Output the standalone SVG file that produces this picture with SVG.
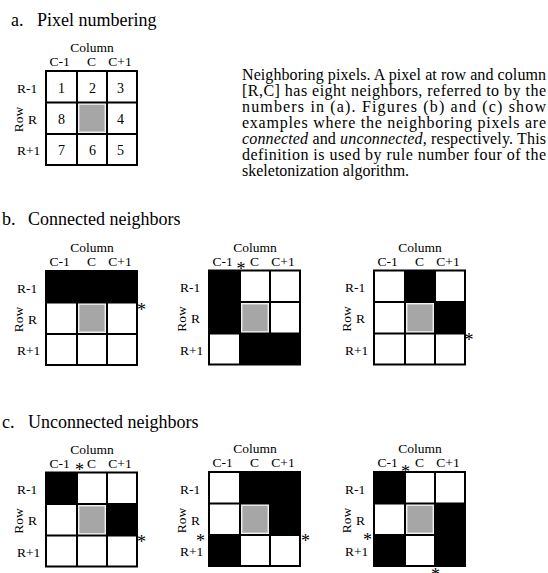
<svg xmlns="http://www.w3.org/2000/svg" width="548" height="573" viewBox="0 0 548 573">
<style>
text{font-family:"Liberation Serif","Times New Roman",serif;fill:#000}
.title{font-size:18px}
.lab{font-size:13.5px}
.num{font-size:14px;text-anchor:middle}
.mid{text-anchor:middle}
.para{font-size:16px}
.mark{font-size:18px;text-anchor:middle}
.blk{fill:#000}
.gray{fill:#a6a6a6;stroke:#e4e4e4;stroke-width:1}
</style>
<defs>
<path id="gridlines" d="M46 71H137V165H46Z M77 71V165 M107 71V165 M46 102.5H137 M46 134H137" fill="none" stroke="#000" stroke-width="2"/>
<rect id="center" x="79" y="104.5" width="26" height="27.5" fill="#a6a6a6" stroke="#e4e4e4" stroke-width="1"/>
</defs>
<rect x="0" y="0" width="548" height="573" fill="#fff"/>

<g id="title-a"><text class="title" x="11" y="26">a.</text><text class="title" x="37" y="26">Pixel numbering</text></g>
<g id="title-b"><text class="title" x="2" y="225">b.</text><text class="title" x="28" y="225">Connected neighbors</text></g>
<g id="title-c"><text class="title" x="2" y="428">c.</text><text class="title" x="28" y="428">Unconnected neighbors</text></g>

<g id="caption" class="para">
<text class="para" x="242" y="80" textLength="304" lengthAdjust="spacing">Neighboring pixels.  A pixel at row and column</text>
<text class="para" x="242" y="96" textLength="304" lengthAdjust="spacing">[R,C] has eight neighbors, referred to by the</text>
<text class="para" x="242" y="112" textLength="304" lengthAdjust="spacing">numbers in (a).  Figures (b) and (c) show</text>
<text class="para" x="242" y="128" textLength="304" lengthAdjust="spacing">examples where the neighboring pixels are</text>
<text class="para" x="242" y="144" textLength="304" lengthAdjust="spacing"><tspan font-style="italic">connected</tspan> and <tspan font-style="italic">unconnected</tspan>, respectively.  This</text>
<text class="para" x="242" y="160" textLength="304" lengthAdjust="spacing">definition is used by rule number four of the</text>
<text class="para" x="242" y="176">skeletonization algorithm.</text>
</g>

<g id="grid-a">
<use href="#center"/>
<use href="#gridlines"/>
<text class="lab mid" x="92" y="52">Column</text>
<text class="lab mid" x="59.5" y="66">C-1</text>
<text class="lab mid" x="91.5" y="66">C</text>
<text class="lab mid" x="120" y="66">C+1</text>
<text class="lab" x="17" y="92.5">R-1</text>
<text class="lab" x="28" y="123.5">R</text>
<text class="lab" x="17" y="155">R+1</text>
<text class="lab mid" transform="translate(23,119.5) rotate(-90)">Row</text>
<text class="num" x="61.5" y="93">1</text>
<text class="num" x="92.5" y="93">2</text>
<text class="num" x="120.5" y="93">3</text>
<text class="num" x="61.5" y="123.5">8</text>
<text class="num" x="120.5" y="123.5">4</text>
<text class="num" x="61.5" y="155">7</text>
<text class="num" x="92.5" y="155">6</text>
<text class="num" x="120.5" y="155">5</text>
</g>

<g id="grid-b1" transform="translate(0,200)">
<rect class="blk" x="46" y="71" width="91" height="31.5"/>
<use href="#center"/>
<use href="#gridlines"/>
<text class="lab mid" x="92" y="52">Column</text>
<text class="lab mid" x="59.5" y="66">C-1</text>
<text class="lab mid" x="91.5" y="66">C</text>
<text class="lab mid" x="120" y="66">C+1</text>
<text class="lab" x="17" y="92.5">R-1</text>
<text class="lab" x="28" y="123.5">R</text>
<text class="lab" x="17" y="155">R+1</text>
<text class="lab mid" transform="translate(23,119.5) rotate(-90)">Row</text>
<text class="mark" x="141.5" y="116">*</text>
</g>

<g id="grid-b2" transform="translate(163,199.5)">
<rect class="blk" x="46" y="71" width="31" height="63"/>
<rect class="blk" x="77" y="134" width="60" height="31"/>
<use href="#center"/>
<use href="#gridlines"/>
<text class="lab mid" x="92" y="52">Column</text>
<text class="lab mid" x="59.5" y="66">C-1</text>
<text class="lab mid" x="91.5" y="66">C</text>
<text class="lab mid" x="120" y="66">C+1</text>
<text class="lab" x="17" y="92.5">R-1</text>
<text class="lab" x="28" y="123.5">R</text>
<text class="lab" x="17" y="155">R+1</text>
<text class="lab mid" transform="translate(23,119.5) rotate(-90)">Row</text>
<text class="mark" x="78" y="75">*</text>
</g>

<g id="grid-b3" transform="translate(328,199.5)">
<rect class="blk" x="77" y="71" width="30" height="31.5"/>
<rect class="blk" x="107" y="102.5" width="30" height="31.5"/>
<use href="#center"/>
<use href="#gridlines"/>
<text class="lab mid" x="92" y="52">Column</text>
<text class="lab mid" x="59.5" y="66">C-1</text>
<text class="lab mid" x="91.5" y="66">C</text>
<text class="lab mid" x="120" y="66">C+1</text>
<text class="lab" x="17" y="92.5">R-1</text>
<text class="lab" x="28" y="123.5">R</text>
<text class="lab" x="17" y="155">R+1</text>
<text class="lab mid" transform="translate(23,119.5) rotate(-90)">Row</text>
<text class="mark" x="141" y="146.5">*</text>
</g>

<g id="grid-c1" transform="translate(0,401.5)">
<rect class="blk" x="46" y="71" width="31" height="31.5"/>
<rect class="blk" x="107" y="102.5" width="30" height="31.5"/>
<use href="#center"/>
<use href="#gridlines"/>
<text class="lab mid" x="92" y="52">Column</text>
<text class="lab mid" x="59.5" y="66">C-1</text>
<text class="lab mid" x="91.5" y="66">C</text>
<text class="lab mid" x="120" y="66">C+1</text>
<text class="lab" x="17" y="92.5">R-1</text>
<text class="lab" x="28" y="123.5">R</text>
<text class="lab" x="17" y="155">R+1</text>
<text class="lab mid" transform="translate(23,119.5) rotate(-90)">Row</text>
<text class="mark" x="79.5" y="74.5">*</text>
<text class="mark" x="141.5" y="146">*</text>
</g>

<g id="grid-c2" transform="translate(163,401)">
<rect class="blk" x="77" y="71" width="60" height="31.5"/>
<rect class="blk" x="107" y="102.5" width="30" height="31.5"/>
<rect class="blk" x="46" y="134" width="31" height="31"/>
<use href="#center"/>
<use href="#gridlines"/>
<text class="lab mid" x="92" y="52">Column</text>
<text class="lab mid" x="59.5" y="66">C-1</text>
<text class="lab mid" x="91.5" y="66">C</text>
<text class="lab mid" x="120" y="66">C+1</text>
<text class="lab" x="17" y="92.5">R-1</text>
<text class="lab" x="28" y="123.5">R</text>
<text class="lab" x="17" y="155">R+1</text>
<text class="lab mid" transform="translate(23,119.5) rotate(-90)">Row</text>
<text class="mark" x="142.5" y="145.5">*</text>
<text class="mark" x="37.5" y="145.5">*</text>
</g>

<g id="grid-c3" transform="translate(328,401)">
<rect class="blk" x="46" y="71" width="31" height="31.5"/>
<rect class="blk" x="107" y="102.5" width="30" height="62.5"/>
<rect class="blk" x="46" y="134" width="31" height="31"/>
<use href="#center"/>
<use href="#gridlines"/>
<text class="lab mid" x="92" y="52">Column</text>
<text class="lab mid" x="59.5" y="66">C-1</text>
<text class="lab mid" x="91.5" y="66">C</text>
<text class="lab mid" x="120" y="66">C+1</text>
<text class="lab" x="17" y="92.5">R-1</text>
<text class="lab" x="28" y="123.5">R</text>
<text class="lab" x="17" y="155">R+1</text>
<text class="lab mid" transform="translate(23,119.5) rotate(-90)">Row</text>
<text class="mark" x="77.5" y="77">*</text>
<text class="mark" x="39.5" y="145">*</text>
<text class="mark" x="107.5" y="180">*</text>
</g>

<g id="connectors"/>
</svg>
